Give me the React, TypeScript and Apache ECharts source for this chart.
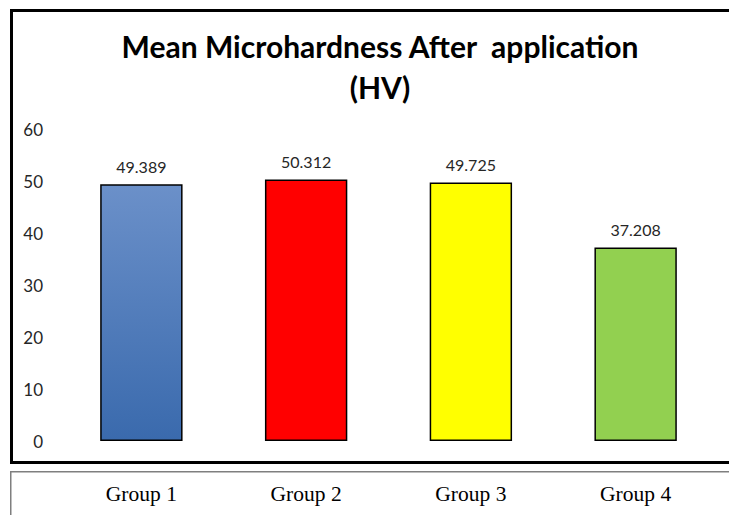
import React, { useEffect, useRef } from "react";
import * as echarts from "echarts";

const categories = ["Group 1", "Group 2", "Group 3", "Group 4"];
const values = [49.389, 50.312, 49.725, 37.208];
const yTicks = [0, 10, 20, 30, 40, 50, 60];
const titleLines = ["Mean Microhardness After  application", "(HV)"];

export default function App() {
  const ref = useRef<HTMLDivElement>(null);
  useEffect(() => {
    document.body.style.margin = "0";
    const chart = echarts.init(ref.current!, null, { renderer: "svg" });
    const colors: any[] = [
      new echarts.graphic.LinearGradient(0, 0, 0, 1, [
        { offset: 0, color: "#6b90c9" },
        { offset: 1, color: "#3a6aad" },
      ]),
      "#ff0000",
      "#ffff00",
      "#92d050",
    ];
    chart.setOption({
      animation: false,
      backgroundColor: "#ffffff",
      title: {
        text: titleLines.join("\n"),
        left: 375,
        top: 20,
        textAlign: "center",
        textStyle: {
          fontFamily: "Lato",
          fontWeight: "bold",
          fontSize: 30,
          lineHeight: 41,
          color: "#000",
        },
      },
      graphic: [
        {
          type: "rect",
          shape: { x: 11.5, y: 10.5, width: 740, height: 452 },
          style: { fill: "none", stroke: "#000", lineWidth: 3 },
          silent: true,
        },
        {
          type: "rect",
          shape: { x: 10.75, y: 471.75, width: 740, height: 80 },
          style: { fill: "none", stroke: "#7f7f7f", lineWidth: 1.5 },
          silent: true,
        },
      ],
      grid: { left: 59, right: 11, top: 129, bottom: 74 },
      xAxis: {
        type: "category",
        data: categories,
        axisLine: { show: false },
        axisTick: { show: false },
        axisLabel: {
          fontFamily: "Liberation Serif",
          fontSize: 21.5,
          color: "#000",
          margin: 42,
        },
      },
      yAxis: {
        type: "value",
        min: yTicks[0],
        max: yTicks[yTicks.length - 1],
        interval: 10,
        splitLine: { show: false },
        axisLine: { show: false },
        axisTick: { show: false },
        axisLabel: {
          fontFamily: "Lato",
          fontSize: 17,
          color: "#262626",
          margin: 16,
        },
      },
      series: [
        {
          type: "bar",
          barWidth: "50%",
          data: values.map((v, i) => ({
            value: v,
            itemStyle: { color: colors[i], borderColor: "#000", borderWidth: 1.5 },
          })),
          label: {
            show: true,
            position: "top",
            distance: 10,
            fontFamily: "Lato",
            fontSize: 16,
            color: "#262626",
            formatter: (p: any) => p.value.toFixed(3),
          },
        },
      ],
    });
    return () => chart.dispose();
  }, []);
  return (
    <div
      ref={ref}
      style={{ position: "absolute", left: 0, top: 0, width: 729, height: 515 }}
    />
  );
}
